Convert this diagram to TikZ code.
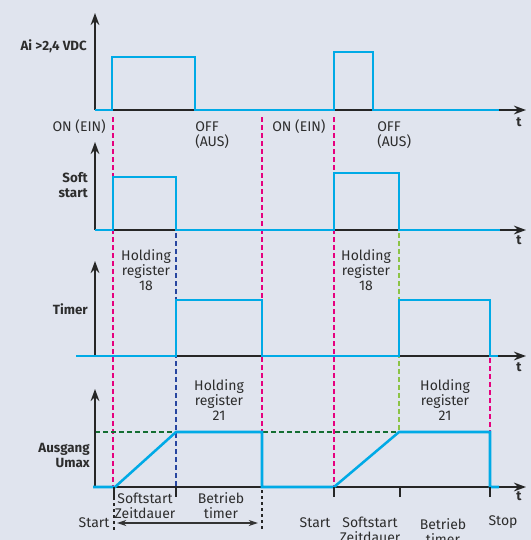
\documentclass[tikz,border=0pt]{standalone}
\usepackage{fontspec}
\setmainfont{Fira Sans}
\usetikzlibrary{arrows.meta}
\definecolor{bg}{RGB}{224,228,238}
\definecolor{sig}{RGB}{0,170,230}
\definecolor{mag}{RGB}{230,0,126}
\definecolor{dblue}{RGB}{40,70,160}
\definecolor{lgreen}{RGB}{140,195,70}
\definecolor{dgreen}{RGB}{20,110,50}
\definecolor{txt}{RGB}{45,45,45}
\tikzset{
  axis/.style={draw=black!85, line width=1.5pt, -{Stealth[length=9pt,width=6.5pt]}},
  sigline/.style={draw=sig, line width=1.9pt, line join=miter},
  vdash/.style={line width=0.9pt, dash pattern=on 3.5pt off 2.5pt},
  lbl/.style={text=txt, font=\fontsize{10.5}{11.25}\selectfont, inner sep=0pt, align=center},
  blbl/.style={text=txt, font=\bfseries\fontsize{10}{11.25}\selectfont, inner sep=0pt, align=right},
  tickmark/.style={draw=black!85, line width=1pt},
}
\begin{document}
\begin{tikzpicture}[x=0.75pt,y=-0.75pt]
\fill[bg] (0,0) rectangle (531,540);
\useasboundingbox (0,0) rectangle (531,540);

% vertical dashed markers
\draw[vdash, mag] (113,117) -- (113,487);
\draw[vdash, mag] (262,117) -- (262,432);
\draw[vdash, mag] (334,117) -- (334,487);
\draw[vdash, dblue] (176,233) -- (176,487);
\draw[vdash, lgreen] (399,233) -- (399,432);
\draw[vdash, mag] (490,358) -- (490,432);
\draw[vdash, dgreen] (95,432) -- (399,432);

% axes
\draw[axis] (95,110) -- (95,13);
\draw[axis] (95,110) -- (526,110);
\draw[axis] (95,230) -- (95,142);
\draw[axis] (95,230) -- (526,230);
\draw[axis] (95,356) -- (95,261);
\draw[axis] (95,356) -- (526,356);
\draw[axis] (95,487) -- (95,389);
\draw[axis] (95,487) -- (526,487);

% signals
\draw[sigline] (95,110) -- (112,110) -- (112,57) -- (195,57) -- (195,110) -- (334,110) -- (334,52) -- (373,52) -- (373,110) -- (499,110);
\draw[sigline] (95,230) -- (113,230) -- (113,177) -- (176,177) -- (176,230) -- (334,230) -- (334,173) -- (399,173) -- (399,230) -- (500,230);
\draw[sigline] (76,356) -- (176,356) -- (176,300) -- (262,300) -- (262,356) -- (399,356) -- (399,300) -- (490,300) -- (490,356) -- (498,356);
\draw[sigline] (93,487) -- (115,487) -- (176,432) -- (262,432) -- (262,487) -- (334,487) -- (399,432) -- (490,432) -- (490,487) -- (499,487);

% ticks on bottom axis
\draw[tickmark] (114,487) -- (114,497);
\draw[tickmark] (176,487) -- (176,497);
\draw[tickmark] (334,487) -- (334,497);
\draw[tickmark] (400,487) -- (400,497);
\draw[tickmark] (490,487) -- (490,497);
\draw[black!85, line width=0.8pt, dash pattern=on 2.5pt off 2pt] (114,497) -- (114,530);
\draw[black!85, line width=0.8pt, dash pattern=on 2.5pt off 2pt] (262,490) -- (262,530);

% duration arrow
\coordinate (sA) at (117,523);
\coordinate (sB) at (258,523);
\draw[black!80, line width=0.8pt, {Stealth[length=7pt,width=4.5pt]}-{Stealth[length=7pt,width=4.5pt]}] (sA) -- (sB);

% axis labels
\node[blbl, anchor=east] (l1) at (87,46) {Ai >2,4 VDC};
\node[blbl, anchor=east] (l2) at (88,185.5) {Soft\\start};
\node[blbl, anchor=east] (l3) at (88,309) {Timer};
\node[blbl, anchor=east] (l4) at (90,455.5) {Ausgang\\Umax};
\node[blbl] (t1) at (519,122) {t};
\node[blbl] (t2) at (519,240) {t};
\node[blbl] (t3) at (519,367) {t};
\node[blbl] (t4) at (519,496) {t};

% event labels
\node[lbl, anchor=east] (on1) at (106,127) {ON (EIN)};
\node[lbl, anchor=west, align=left] (off1) at (195,135) {OFF\\(AUS)};
\node[lbl, anchor=west] (on2) at (272,127) {ON (EIN)};
\node[lbl, anchor=west, align=left] (off2) at (377,135) {OFF\\(AUS)};

\node[lbl] (h18a) at (146,270) {Holding\\register\\18};
\node[lbl] (h18b) at (366,270) {Holding\\register\\18};
\node[lbl] (h21a) at (219,400) {Holding\\register\\21};
\node[lbl] (h21b) at (445,400) {Holding\\register\\21};

% bottom labels
\node[lbl] (ss1) at (145,506) {Softstart\\Zeitdauer};
\node[lbl] (bt1) at (221,506) {Betrieb\\timer};
\node[lbl] (st1) at (94,523) {Start};
\node[lbl] (st2) at (315,523) {Start};
\node[lbl] (ss2) at (370,530) {Softstart\\Zeitdauer};
\node[lbl] (bt2) at (443,532) {Betrieb\\timer};
\node[lbl] (sp) at (503,522) {Stop};
\end{tikzpicture}
\end{document}
